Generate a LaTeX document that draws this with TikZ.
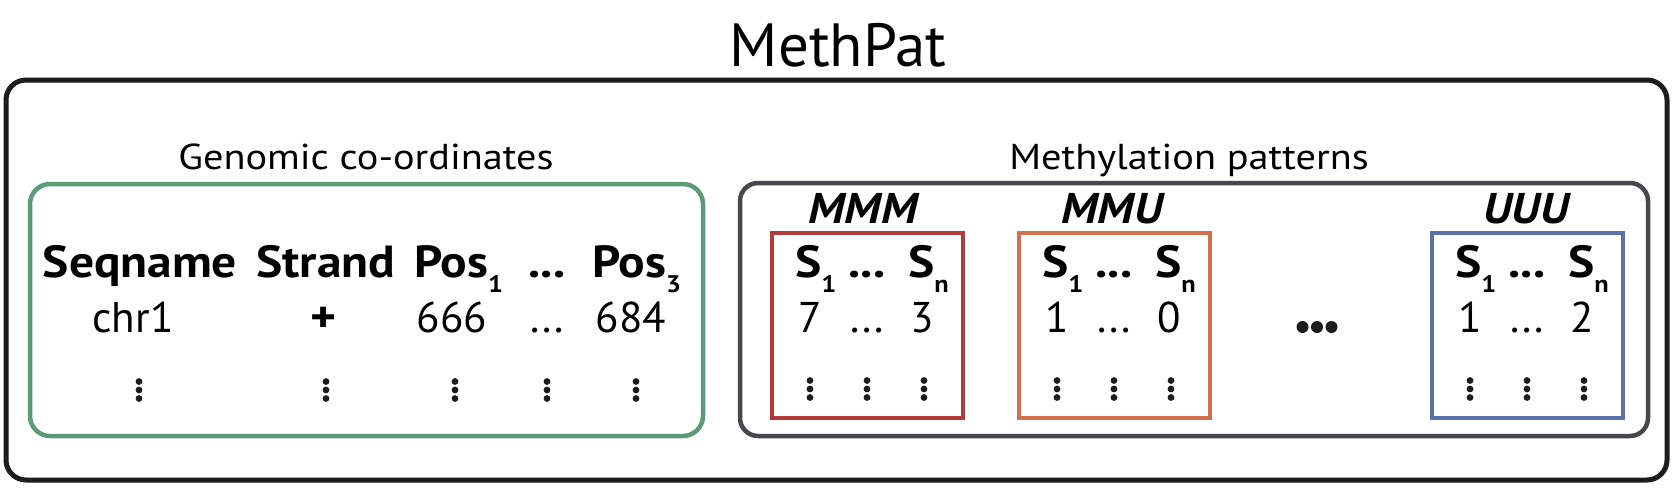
\documentclass[tikz,border=0pt]{standalone}
\usepackage{fontspec}
\setmainfont{PT Sans}
\newfontfamily\widesans{PT Sans}[FakeStretch=1.1]
\newfontfamily\capsans{PT Sans}[FakeStretch=1.12]
\definecolor{Black}{HTML}{1C1C1C}
\definecolor{CoordGreen}{HTML}{5C9B78}
\definecolor{PatGrey}{HTML}{47474D}
\definecolor{MMMred}{HTML}{B23A3A}
\definecolor{MMUorange}{HTML}{D2704F}
\definecolor{UUUblue}{HTML}{5872A8}
\newcommand{\lowsub}[1]{\raisebox{-15pt}{\fontsize{24}{24}\selectfont #1}}
\tikzstyle{none}=[inner sep=0pt]
\tikzstyle{title}=[inner sep=0pt,anchor=base,font=\fontsize{61}{61}\selectfont]
\tikzstyle{caption}=[inner sep=0pt,anchor=base,font=\capsans\fontsize{36}{36}\selectfont]
\tikzstyle{head}=[inner sep=0pt,anchor=base,font=\widesans\fontsize{45}{45}\selectfont\bfseries]
\tikzstyle{cell}=[inner sep=0pt,anchor=base,font=\fontsize{43}{43}\selectfont]
\tikzstyle{patlabel}=[inner sep=0pt,anchor=base,font=\widesans\fontsize{43}{43}\selectfont\bfseries\itshape]
\tikzstyle{outerbox}=[draw=Black,line width=5.000,rounded corners=20]
\tikzstyle{groupbox}=[line width=4.500,rounded corners=20]
\tikzstyle{patbox}=[line width=3.500]
\tikzset{colvdots/.pic={\fill[Black] (0,-8.5) circle (3.4) (0,0) circle (3.4) (0,8.5) circle (3.4);}}
\pgfdeclarelayer{edgelayer}
\pgfdeclarelayer{nodelayer}
\pgfsetlayers{edgelayer,nodelayer,main}
\begin{document}
\begin{tikzpicture}[x=1pt,y=-1pt]
	\useasboundingbox (0,0) rectangle (1675,491);
	\begin{pgfonlayer}{nodelayer}
		\node [style=title] (0) at (838, 66) {MethPat};
		\node [style=caption] (1) at (366, 169) {Genomic co-ordinates};
		\node [style=caption] (2) at (1189, 169) {Methylation patterns};

		\node [style=head] (3) at (140, 277) {Seqname};
		\node [style=head] (4) at (326, 277) {Strand};
		\node [style=head, anchor=base west] (5) at (414, 277) {Pos\lowsub{1}};
		\node [style=head] (6) at (547, 277) {...};
		\node [style=head, anchor=base west] (7) at (592, 277) {Pos\lowsub{3}};
		\node [style=cell] (8) at (133, 332) {chr1};
		\node [style=head] (9) at (324, 332) {+};
		\node [style=cell] (10) at (452, 332) {666};
		\node [style=cell] (11) at (547, 332) {...};
		\node [style=cell] (12) at (631, 332) {684};

		% one box per pattern, shifted along x
		\foreach \dx/\labx/\lab/\first/\last in {0/863/MMM/7/3, 247/1112/MMU/1/0, 660/1526/UUU/1/2} {
			\node [style=patlabel] (lab\lab) at (\labx, 223) {\lab};
			\node [style=head, anchor=base west] (s1\lab) at (795+\dx, 277) {S\lowsub{1}};
			\node [style=head] (sd\lab) at (867+\dx, 277) {...};
			\node [style=head, anchor=base west] (sn\lab) at (908+\dx, 277) {S\lowsub{n}};
			\node [style=cell] (c1\lab) at (810+\dx, 332) {\first};
			\node [style=cell] (cd\lab) at (867+\dx, 332) {...};
			\node [style=cell] (cn\lab) at (922+\dx, 332) {\last};
			\pic at (810+\dx, 389) {colvdots};
			\pic at (867+\dx, 389) {colvdots};
			\pic at (924+\dx, 389) {colvdots};
		}
		\foreach \vx in {139, 326, 455, 547, 636}
			\pic at (\vx, 390) {colvdots};

		% the skipped patterns
		\node [style=none] (13) at (1317, 327) {};
		\fill [Black] ([xshift=-14.5pt]13) circle (6) (13) circle (6) ([xshift=14.5pt]13) circle (6);
	\end{pgfonlayer}
	\begin{pgfonlayer}{edgelayer}
		\draw [style=outerbox] (6, 80) rectangle (1667, 480);
		\draw [style=groupbox, draw=CoordGreen] (30, 184) rectangle (703, 436);
		\draw [style=groupbox, draw=PatGrey, rounded corners=18] (740, 183) rectangle (1648, 436);
		\draw [style=patbox, draw=MMMred] (772, 233) rectangle (963, 418);
		\draw [style=patbox, draw=MMUorange] (1019, 233) rectangle (1210, 418);
		\draw [style=patbox, draw=UUUblue] (1432, 233) rectangle (1623, 418);
	\end{pgfonlayer}
\end{tikzpicture}
\end{document}
